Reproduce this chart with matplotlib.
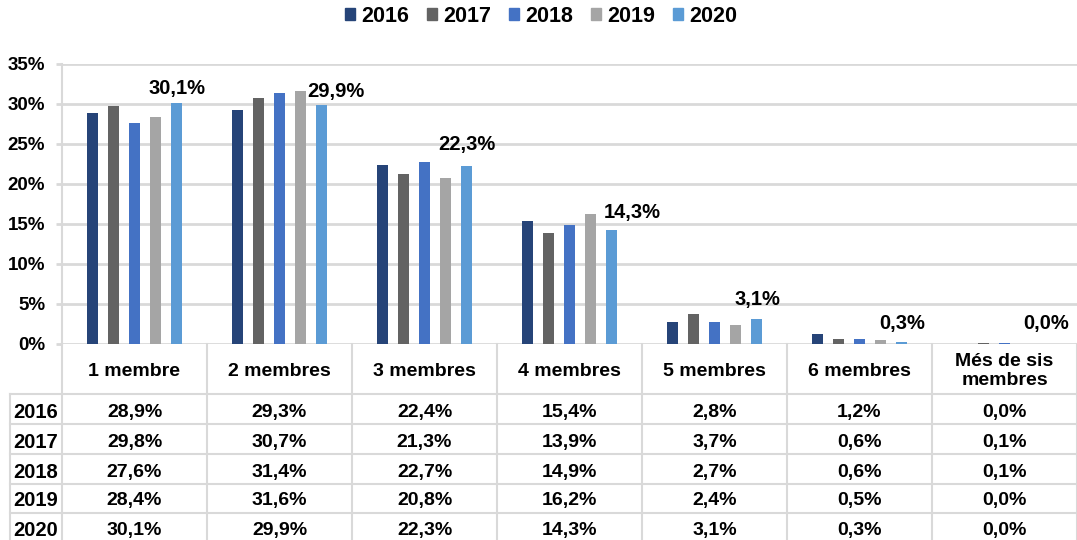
import matplotlib
matplotlib.use("Agg")
import matplotlib.pyplot as plt
from matplotlib.lines import Line2D
from matplotlib.patches import Patch
from matplotlib.transforms import blended_transform_factory

plt.rcParams['font.family'] = ['Liberation Sans', 'DejaVu Sans']
plt.rcParams['font.weight'] = 'bold'

categories = ["1 membre", "2 membres", "3 membres", "4 membres",
              "5 membres", "6 membres", "Més de sis\nmembres"]
years = ["2016", "2017", "2018", "2019", "2020"]
v2016 = [28.9, 29.3, 22.4, 15.4, 2.8, 1.2, 0.0]
v2017 = [29.8, 30.7, 21.3, 13.9, 3.7, 0.6, 0.1]
v2018 = [27.6, 31.4, 22.7, 14.9, 2.7, 0.6, 0.1]
v2019 = [28.4, 31.6, 20.8, 16.2, 2.4, 0.5, 0.0]
v2020 = [30.1, 29.9, 22.3, 14.3, 3.1, 0.3, 0.0]
series = [v2016, v2017, v2018, v2019, v2020]
colors = ["#264478", "#636363", "#4472C4", "#A5A5A5", "#5B9BD5"]
yticks = [0, 5, 10, 15, 20, 25, 30, 35]

# label shifts (pixels) for the 2020 data labels, measured from bar top to baseline
label_dx = [0, 14, 0, 21, 1, 1, 0]
label_dy = [9, 8, 16, 12, 14, 13, 15]

W, H = 1077, 540
grid_col = "#d9d9d9"


def fy(py):
    return 1 - py / H


fig = plt.figure(figsize=(W / 100, H / 100), dpi=100)
ax = fig.add_axes([62 / W, fy(344), 1015 / W, 280 / H])

x = list(range(len(categories)))
step = 0.145
width = 0.075
for i, (vals, yr, c) in enumerate(zip(series, years, colors)):
    xs = [k + (i - 2) * step for k in x]
    ax.bar(xs, vals, width=width, color=c, zorder=3, label=yr)

# data labels for the last year
for k, val in enumerate(v2020):
    ax.annotate(f"{val:.1f}%".replace(".", ","),
                xy=(k + 2 * step, val),
                xytext=(label_dx[k] * 0.72, label_dy[k] * 0.72),
                textcoords="offset points", ha="center", va="baseline",
                fontsize=14.5, fontweight="bold")

ax.set_xlim(-0.5, len(categories) - 0.5)
ax.set_ylim(0, 35)
ax.set_yticks(yticks)
ax.set_yticklabels([f"{t}%" for t in yticks], fontsize=13.5, fontweight="bold")
ax.set_xticks([])
ax.yaxis.grid(True, color=grid_col, linewidth=2, zorder=0)
ax.tick_params(axis="y", length=4, width=2, color=grid_col, pad=8)
for s in ["top", "right", "bottom"]:
    ax.spines[s].set_visible(False)
ax.spines["left"].set_color(grid_col)
ax.spines["left"].set_linewidth(1.5)

# data table under the plot
tr = blended_transform_factory(ax.transData, fig.transFigure)
for k in range(len(categories) + 1):
    fig.add_artist(Line2D([k - 0.5, k - 0.5], [fy(344), fy(540)],
                          transform=tr, color=grid_col, linewidth=1.5))
fig.add_artist(Line2D([10 / W, 10 / W], [fy(394), fy(540)],
                      transform=fig.transFigure, color=grid_col, linewidth=1.5))
row_lines = [394, 424, 454, 484, 513]
for py in row_lines:
    fig.add_artist(Line2D([10 / W, 1.0], [fy(py), fy(py)],
                          transform=fig.transFigure, color=grid_col, linewidth=1.5))

for k, cat in enumerate(categories):
    fig.text(k, fy(371), cat, transform=tr, ha="center", va="center",
             fontsize=14, fontweight="bold", linespacing=1.15)

row_centers = [412, 442, 472, 501, 530]
for yr, vals, py in zip(years, series, row_centers):
    fig.text(13 / W, fy(py), yr, ha="left", va="center",
             fontsize=14.5, fontweight="bold")
    for k, val in enumerate(vals):
        fig.text(k, fy(py), f"{val:.1f}%".replace(".", ","), transform=tr,
                 ha="center", va="center", fontsize=14, fontweight="bold")

handles = [Patch(color=c) for c in colors]
fig.legend(handles, years, loc="center", bbox_to_anchor=(541 / W, fy(16)),
           ncol=5, frameon=False, handlelength=0.47, handleheight=0.47,
           handletextpad=0.28, columnspacing=0.84, borderaxespad=0,
           prop={"size": 15.5, "weight": "bold"})

fig.savefig("out.png", dpi=100)
